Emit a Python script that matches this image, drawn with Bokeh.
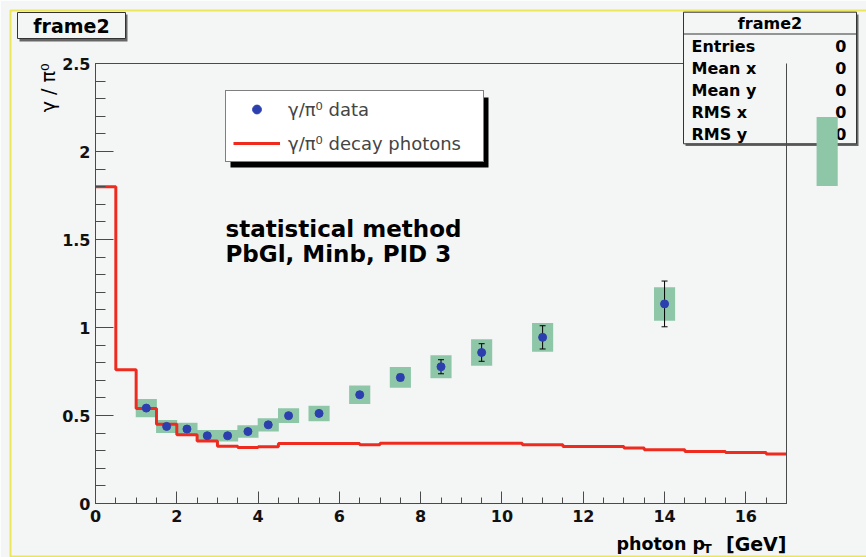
import numpy as np
from bokeh.plotting import figure
from bokeh.core.properties import value
from bokeh.models import (ColumnDataSource, Range1d, SingleIntervalTicker, CustomJSTickFormatter,
                          Legend, LegendItem, BoxAnnotation)
from bokeh.embed import file_html
from bokeh.resources import INLINE

# ---------------- data ----------------
pt = [1.25, 1.75, 2.25, 2.75, 3.25, 3.75, 4.25, 4.75, 5.5, 6.5, 7.5, 8.5, 9.5, 11.0, 14.0, 18.0]
ratio = [0.542, 0.438, 0.423, 0.385, 0.385, 0.409, 0.447, 0.499, 0.512, 0.618,
         0.716, 0.777, 0.858, 0.944, 1.134, 2.0]
stat_err = [0.008, 0.006, 0.006, 0.006, 0.006, 0.006, 0.007, 0.008, 0.009, 0.012,
            0.018, 0.040, 0.050, 0.066, 0.130, 0.200]
sys_err = [0.052, 0.037, 0.036, 0.033, 0.033, 0.035, 0.038, 0.042, 0.044, 0.053,
           0.059, 0.066, 0.075, 0.082, 0.095, 0.196]

decay_bin_width = 0.5
decay_ratio = [1.80, 0.76, 0.54, 0.45, 0.39, 0.355, 0.325, 0.318, 0.322,
               0.341, 0.341, 0.341, 0.341, 0.334,
               0.342, 0.342, 0.342, 0.342, 0.342, 0.342, 0.342,
               0.334, 0.334, 0.324, 0.324, 0.324, 0.315, 0.305, 0.305,
               0.296, 0.296, 0.290, 0.290, 0.281]

stat_names = ["Entries", "Mean x", "Mean y", "RMS x", "RMS y"]
stat_values = ["0", "0", "0", "0", "0"]

x_ticks_interval = 2
y_ticks_interval = 0.5
x_max = 17.0
y_max = 2.5

# ---------------- styles / layout ----------------
W, H = 866, 557
FL, FR, FT, FB = 95, 786, 63, 503          # frame edges in canvas pixels
BG = "#f4f6f6"
AXC = "#4a4a4a"
BLUE = "#2c3fae"
GREEN = "#8ec6a8"
RED = "#ee2b1e"
FONT = "DejaVu Sans"
BOX_W = 0.52

p = figure(width=W, height=H, x_range=Range1d(0, x_max), y_range=Range1d(0, y_max),
           output_backend="svg", toolbar_location=None,
           min_border_left=FL, min_border_right=W - FR, min_border_top=FT, min_border_bottom=H - FB)
# pixel-space ranges for the page decorations (stats box, title box, axis titles)
p.extra_x_ranges = {"px": Range1d(FL, FR)}
p.extra_y_ranges = {"px": Range1d(FB, FT)}
p.title.visible = False
p.background_fill_color = BG
p.border_fill_color = BG
p.outline_line_color = AXC
p.outline_line_width = 1
p.xgrid.visible = False
p.ygrid.visible = False

p.xaxis.ticker = SingleIntervalTicker(interval=x_ticks_interval, num_minor_ticks=4)
p.yaxis.ticker = SingleIntervalTicker(interval=y_ticks_interval, num_minor_ticks=5)
p.yaxis.formatter = CustomJSTickFormatter(code="return String(Math.round(tick*10)/10)")
for ax in (p.xaxis[0], p.yaxis[0]):
    ax.axis_line_color = AXC
    ax.major_tick_line_color = AXC
    ax.minor_tick_line_color = AXC
    ax.major_tick_out = 0
    ax.minor_tick_out = 0
    ax.major_label_text_font = FONT
    ax.major_label_text_font_style = "bold"
    ax.major_label_text_font_size = "16px"
    ax.major_label_text_color = "#111111"
p.xaxis.major_tick_in = 12
p.xaxis.minor_tick_in = 6
p.xaxis.major_label_standoff = 6
p.yaxis.major_tick_in = 18
p.yaxis.minor_tick_in = 10
p.yaxis.major_label_standoff = 5

# ---------------- data sources ----------------
pt_a = np.array(pt)
r_a = np.array(ratio)
se_a = np.array(stat_err)
sy_a = np.array(sys_err)
inside = pt_a <= x_max

src_in = ColumnDataSource(dict(x=pt_a[inside], y=r_a[inside], h=2 * sy_a[inside],
                               lo=(r_a - se_a)[inside], hi=(r_a + se_a)[inside]))
src_out = ColumnDataSource(dict(x=pt_a[~inside], y=r_a[~inside], h=2 * sy_a[~inside]))
src_all = ColumnDataSource(dict(x=pt_a, y=r_a))

edges = np.arange(len(decay_ratio) + 1) * decay_bin_width
step_y = list(decay_ratio) + [decay_ratio[-1]]
src_step = ColumnDataSource(dict(x=edges, y=step_y))

# systematic boxes
p.rect("x", "y", width=BOX_W, height="h", source=src_in, fill_color=GREEN, line_color=None)
# decay photon histogram
step_r = p.step("x", "y", source=src_step, mode="after", line_color=RED, line_width=3)
# stat error bars
p.segment(x0="x", y0="lo", x1="x", y1="hi", source=src_in, line_color="black", line_width=1)
p.scatter("x", "lo", source=src_in, marker="dash", size=6, line_color="black", line_width=1)
p.scatter("x", "hi", source=src_in, marker="dash", size=6, line_color="black", line_width=1)
# points
pts_r = p.scatter("x", "y", source=src_all, size=8, fill_color=BLUE, line_color=BLUE)


# ---------------- decorations (unclipped overlay glyphs in pixel space) ----------------
def pbox(l, t, r, b, **kw):
    return p.quad(left=[l], right=[r], top=[t], bottom=[b], x_range_name="px",
                  y_range_name="px", level="overlay", **kw)


def ptext(x, y, text, size, bold=True, align="left", baseline="middle", angle=0.0):
    return p.text(x=[x], y=[y], text=[text], angle=angle, x_range_name="px", y_range_name="px",
                  level="overlay", text_font=value(FONT),
                  text_font_style="bold" if bold else "normal", text_font_size=value(size),
                  text_align=align, text_baseline=baseline, text_color="black")


# outer yellow border
pbox(10, 10, 880, 556, fill_alpha=0, line_color="#ece65a", line_width=2)

# title box
pbox(19, 14, 127, 41, fill_color="#666666", line_alpha=0)
pbox(17, 12, 125, 38, fill_color=BG, line_color="#333333", line_width=1)
ptext(71, 25, "frame2", "19px", align="center")

# stats box
pbox(685, 14, 858, 145.5, fill_color="#666666", line_alpha=0)
pbox(683, 11.7, 856, 143.3, fill_color=BG, line_color="#333333", line_width=1)
pbox(683, 33, 856, 34, fill_color="#333333", line_alpha=0)
ptext(769.5, 22.5, "frame2", "16px", align="center")
for i, (nm, vv) in enumerate(zip(stat_names, stat_values)):
    yy = 45.5 + 22 * i
    ptext(691, yy, nm, "16px", align="left")
    ptext(846, yy, vv, "16px", align="right")

# frame right edge drawn over the stats box
p.segment(x0=[x_max], y0=[0], x1=[x_max], y1=[y_max], line_color=AXC, line_width=1, level="overlay")

# systematic box of the point beyond the axis range (unclipped, above the stats box)
p.rect("x", "y", width=BOX_W, height="h", source=src_out, fill_color=GREEN, line_color=None,
       level="overlay")

# legend shadow and legend
p.add_layout(BoxAnnotation(left=230, right=488, top=97, bottom=167,
                           left_units="canvas", right_units="canvas",
                           top_units="canvas", bottom_units="canvas",
                           fill_color="black", fill_alpha=1, line_alpha=0))
legend = Legend(items=[LegendItem(label="γ/π⁰ data", renderers=[pts_r]),
                       LegendItem(label="γ/π⁰ decay photons", renderers=[step_r])],
                location=(130, 341), border_line_color="black", border_line_width=1,
                background_fill_color="white", background_fill_alpha=1.0,
                padding=7, spacing=12, margin=0, glyph_width=47, glyph_height=22,
                label_height=22, label_width=188, label_standoff=8,
                label_text_font=FONT, label_text_font_size="18px")
p.add_layout(legend, "center")

# annotation text
ptext(225, 228, "statistical method", "23px", baseline="alphabetic")
ptext(225, 253, "PbGl, Minb, PID 3", "23px", baseline="alphabetic")

# axis titles
ptext(47, 63, "γ / π⁰", "19px", bold=False, align="right", baseline="alphabetic",
      angle=np.pi / 2)
ptext(616, 543, "photon p", "17.5px", baseline="alphabetic")
ptext(707, 548, "T", "12px", align="center", baseline="alphabetic")
ptext(786, 543, "[GeV]", "19px", align="right", baseline="alphabetic")

open("out.html", "w").write(file_html(p, INLINE))
